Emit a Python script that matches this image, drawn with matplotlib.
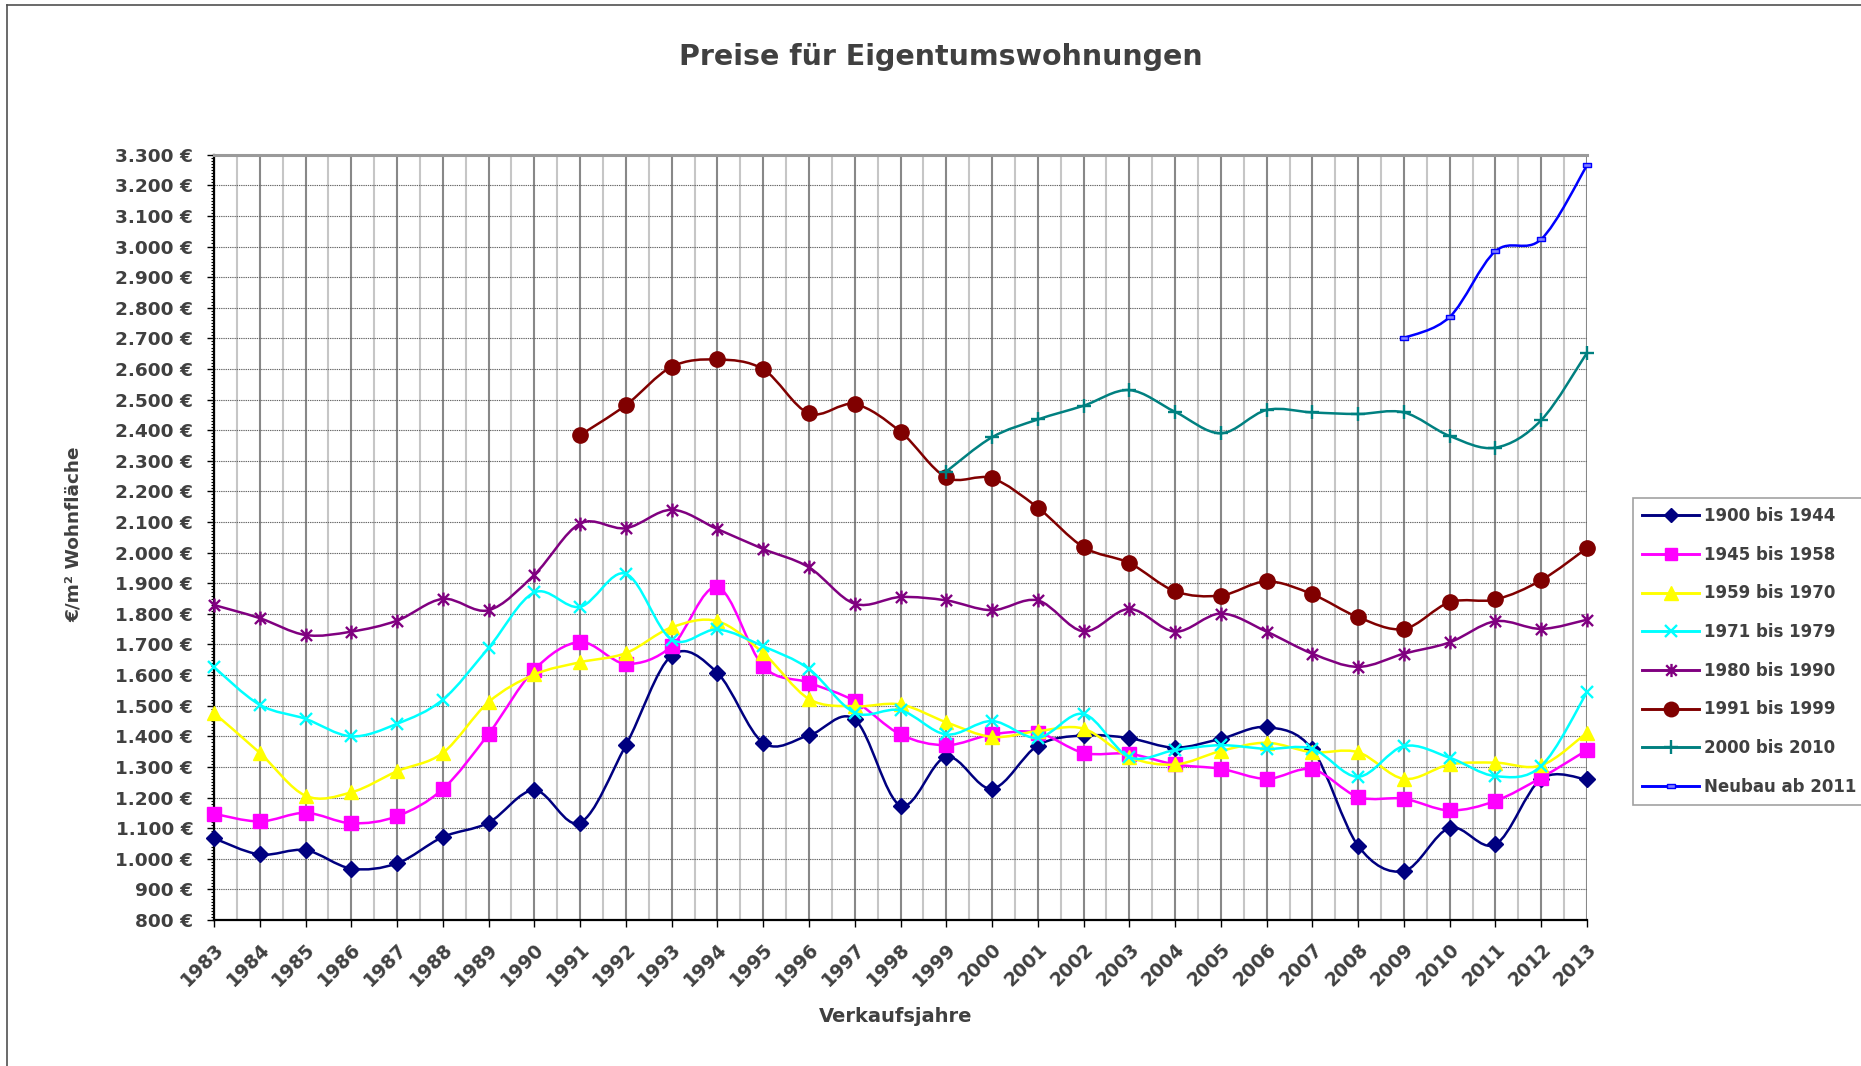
import numpy as np
import matplotlib
matplotlib.use("Agg")
import matplotlib.pyplot as plt
from matplotlib.path import Path
from matplotlib.patches import PathPatch
from matplotlib.lines import Line2D
from matplotlib.ticker import FuncFormatter, MultipleLocator

# ---------------- data ----------------
years = list(range(1983, 2014))
years_1991 = list(range(1991, 2014))
years_2000 = list(range(1999, 2014))
years_neubau = list(range(2009, 2014))

s_1900_1944 = [1067, 1014, 1028, 968, 985, 1071, 1118, 1224, 1118, 1371, 1664, 1607, 1379, 1403, 1455, 1174,
               1333, 1229, 1370, 1403, 1394, 1363, 1392, 1430, 1357, 1042, 960, 1101, 1047, 1261, 1259]
s_1945_1958 = [1147, 1122, 1150, 1116, 1139, 1228, 1408, 1618, 1708, 1637, 1694, 1887, 1629, 1575, 1515, 1406,
               1371, 1406, 1412, 1346, 1343, 1308, 1294, 1261, 1292, 1202, 1196, 1158, 1189, 1265, 1355]
s_1959_1970 = [1476, 1346, 1206, 1217, 1286, 1346, 1512, 1602, 1642, 1672, 1756, 1776, 1672, 1522, 1498, 1504,
               1446, 1398, 1417, 1425, 1332, 1308, 1352, 1379, 1348, 1348, 1261, 1308, 1314, 1305, 1412]
s_1971_1979 = [1626, 1503, 1457, 1400, 1441, 1520, 1689, 1870, 1823, 1931, 1716, 1749, 1694, 1620, 1477, 1485,
               1406, 1450, 1395, 1473, 1332, 1355, 1371, 1359, 1359, 1268, 1368, 1330, 1270, 1303, 1544]
s_1980_1990 = [1829, 1786, 1731, 1742, 1778, 1849, 1812, 1928, 2095, 2080, 2140, 2077, 2012, 1952, 1833, 1855,
               1844, 1812, 1844, 1743, 1816, 1742, 1801, 1742, 1670, 1627, 1670, 1707, 1776, 1751, 1781]
s_1991_1999 = [2384, 2482, 2607, 2631, 2599, 2455, 2485, 2395, 2246, 2243, 2147, 2018, 1966, 1874, 1860, 1906,
               1864, 1789, 1751, 1838, 1847, 1910, 2015]
s_2000_2010 = [2265, 2377, 2435, 2480, 2531, 2460, 2390, 2466, 2458, 2453, 2458, 2381, 2343, 2433, 2653]
s_neubau = [2701, 2770, 2985, 3024, 3265]

labels = ["1900 bis 1944", "1945 bis 1958", "1959 bis 1970", "1971 bis 1979",
          "1980 bis 1990", "1991 bis 1999", "2000 bis 2010", "Neubau ab 2011"]

title = "Preise für Eigentumswohnungen"
xlabel = "Verkaufsjahre"
ylabel = "€/m² Wohnfläche"

# ---------------- styling ----------------
TXT = "#404040"
FONT = "DejaVu Sans"

star_marker = Path([(-1, -1), (1, 1), (-1, 1), (1, -1), (0, -1.25), (0, 1.25)],
                   [Path.MOVETO, Path.LINETO, Path.MOVETO, Path.LINETO, Path.MOVETO, Path.LINETO])
dash_marker = Path([(-1, -0.45), (1, -0.45), (1, 0.45), (-1, 0.45), (-1, -0.45)],
                   [Path.MOVETO, Path.LINETO, Path.LINETO, Path.LINETO, Path.CLOSEPOLY])

series = [
    (years, s_1900_1944, dict(color="#000080", marker="D", ms=8, mfc="#000080", mec="#000080", mew=1)),
    (years, s_1945_1958, dict(color="#FF00FF", marker="s", ms=9.5, mfc="#FF00FF", mec="#FF00FF", mew=1)),
    (years, s_1959_1970, dict(color="#FFFF00", marker="^", ms=10, mfc="#FFFF00", mec="#FFFF00", mew=1)),
    (years, s_1971_1979, dict(color="#00FFFF", marker="x", ms=9, mfc="none", mec="#00FFFF", mew=1.7)),
    (years, s_1980_1990, dict(color="#800080", marker=star_marker, ms=10, mfc="none", mec="#800080", mew=1.7)),
    (years_1991, s_1991_1999, dict(color="#800000", marker="o", ms=11, mfc="#800000", mec="#800000", mew=1)),
    (years_2000, s_2000_2010, dict(color="#008080", marker="+", ms=10, mfc="none", mec="#008080", mew=1.7)),
    (years_neubau, s_neubau, dict(color="#0000FF", marker=dash_marker, ms=6, mfc="#8080FF", mec="#0000FF", mew=1)),
]


def smooth_path(x, y):
    x = np.asarray(x, float)
    y = np.asarray(y, float)
    n = len(x)
    verts = [(x[0], y[0])]
    codes = [Path.MOVETO]
    for i in range(n - 1):
        i0 = max(i - 1, 0)
        i3 = min(i + 2, n - 1)
        c1 = (x[i] + (x[i + 1] - x[i0]) / 6.0, y[i] + (y[i + 1] - y[i0]) / 6.0)
        c2 = (x[i + 1] - (x[i3] - x[i]) / 6.0, y[i + 1] - (y[i3] - y[i]) / 6.0)
        verts += [c1, c2, (x[i + 1], y[i + 1])]
        codes += [Path.CURVE4] * 3
    return Path(verts, codes)


W, H = 1861, 1066
fig = plt.figure(figsize=(W / 100, H / 100), dpi=100)
fig.patch.set_facecolor("white")

left, right = 214 / W, 1587 / W
top, bottom = 1 - 154.7 / H, 1 - 920 / H
ax = fig.add_axes([left, bottom, right - left, top - bottom])

ax.set_xlim(1983, 2013)
ax.set_ylim(800, 3300)

LW = 1.8
handles = []
for k, (xs, ys, st) in enumerate(series):
    patch = PathPatch(smooth_path(xs, ys), facecolor="none", edgecolor=st["color"],
                      lw=LW, zorder=3 + k * 0.1, capstyle="round", joinstyle="round")
    ax.add_patch(patch)
    ax.plot(xs, ys, linestyle="none", marker=st["marker"], ms=st["ms"], mfc=st["mfc"],
            mec=st["mec"], mew=st["mew"], zorder=3.05 + k * 0.1, clip_on=False)
    handles.append(Line2D([], [], color=st["color"], lw=LW + 0.3, marker=st["marker"], ms=st["ms"] * 0.95,
                          mfc=st["mfc"], mec=st["mec"], mew=st["mew"]))

# ticks & grid
ax.set_xticks(years)
ax.set_xticks(np.arange(1983.5, 2013, 1.0), minor=True)
ax.yaxis.set_major_locator(MultipleLocator(100))
ax.yaxis.set_minor_locator(MultipleLocator(10))
ax.yaxis.set_major_formatter(FuncFormatter(lambda v, p: f"{int(round(v)):,}".replace(",", ".") + " €"))

ax.grid(which="major", axis="x", color="#888888", lw=1.5, zorder=0)
ax.grid(which="minor", axis="x", color="#c6c6c6", lw=1.5, zorder=0)
ax.grid(which="major", axis="y", color="#666666", lw=0.8, linestyle=(0, (1.2, 0.8)), zorder=0)
ax.grid(which="minor", axis="y", visible=False)
ax.set_axisbelow(True)

ax.tick_params(axis="both", which="major", length=5, width=1, color="black")
ax.tick_params(axis="y", which="minor", length=2.5, width=0.8, color="black")
ax.tick_params(axis="x", which="minor", length=0)
ax.tick_params(axis="y", which="major", pad=10)
ax.tick_params(axis="x", which="major", pad=9)

for lab in ax.get_yticklabels():
    lab.set_fontsize(13.3)
    lab.set_fontweight("bold")
    lab.set_color(TXT)
    lab.set_family(FONT)
ax.set_xticklabels([str(y) for y in years], rotation=45, ha="right", va="top",
                   rotation_mode="anchor", fontsize=13.5, fontweight="bold", color=TXT, family=FONT)

for s in ("left", "bottom"):
    ax.spines[s].set_color("black")
    ax.spines[s].set_linewidth(1.6)
ax.spines["top"].set_color("#9a9a9a")
ax.spines["top"].set_linewidth(2.2)
ax.spines["right"].set_visible(False)

# titles
fig.text(941 / W, 1 - 57 / H, title, ha="center", va="center", fontsize=20.5,
         fontweight="bold", color=TXT, family=FONT)
fig.text(896 / W, 1 - 1017 / H, xlabel, ha="center", va="center", fontsize=14,
         fontweight="bold", color=TXT, family=FONT)
fig.text(74 / W, 1 - 534 / H, ylabel, ha="center", va="center", rotation=90, fontsize=13.3,
         fontweight="bold", color=TXT, family=FONT)

# legend
leg = fig.legend(handles, labels, loc="upper left", bbox_to_anchor=(1633 / W, 1 - 498 / H),
                 bbox_transform=fig.transFigure, frameon=True, fancybox=False, borderaxespad=0,
                 prop=dict(family=FONT, weight="bold", size=12), labelcolor=TXT,
                 handlelength=3.4, handletextpad=0.3, labelspacing=1.24, borderpad=0.55)
leg.get_frame().set_edgecolor("#8a8a8a")
leg.get_frame().set_linewidth(1.2)

# chart area border (left and top visible)
fig.add_artist(Line2D([6.5 / W, 6.5 / W], [0, 1 - 5 / H], transform=fig.transFigure, color="#505050", lw=1.2))
fig.add_artist(Line2D([6.5 / W, 1], [1 - 5 / H, 1 - 5 / H], transform=fig.transFigure, color="#505050", lw=1.2))

fig.savefig("out.png", dpi=100, facecolor="white")
